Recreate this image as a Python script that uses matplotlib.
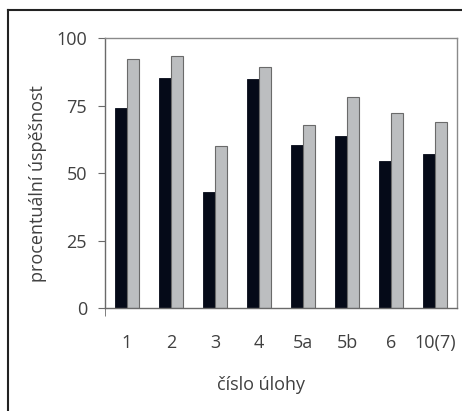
import numpy as np
import matplotlib.pyplot as plt
from matplotlib.lines import Line2D

# data
categories = ['1', '2', '3', '4', '5a', '5b', '6', '10(7)']
dark_values = [74.1, 85.1, 43.0, 84.7, 60.5, 63.7, 54.4, 56.9]
gray_values = [92.1, 93.5, 60.0, 89.1, 67.9, 78.3, 72.1, 68.9]
y_ticks = [0, 25, 50, 75, 100]

plt.rcParams['font.family'] = ['Open Sans', 'DejaVu Sans']

fig = plt.figure(figsize=(4.62, 4.11), dpi=100)
ax = fig.add_axes([105 / 462, 1 - 308 / 411, (457 - 105) / 462, (308 - 38) / 411])

x = np.arange(len(categories))
w = 0.28
ax.bar(x - w / 2, dark_values, width=w, color='#050a18', edgecolor='#050a18', linewidth=0.6)
ax.bar(x + w / 2, gray_values, width=w, color='#bcbec0', edgecolor='#6a6a6a', linewidth=0.8)

ax.set_xlim(-0.5, len(categories) - 0.5)
ax.set_ylim(0, 100)
ax.set_yticks(y_ticks)
ax.set_xticks(x)
ax.set_xticklabels(categories)
ax.set_xticks([-0.5], minor=True)

for s in ax.spines.values():
    s.set_color('#8a8a8a')
    s.set_linewidth(1.0)
ax.spines['left'].set_color('#6a6a6a')
ax.spines['bottom'].set_color('#6a6a6a')

fs = 13
ax.tick_params(axis='y', length=5, direction='out', color='#6a6a6a', pad=8,
               labelsize=fs, labelcolor='#404040')
ax.tick_params(axis='x', which='major', length=0, pad=19,
               labelsize=fs, labelcolor='#404040')
ax.tick_params(axis='x', which='minor', length=6, direction='out', color='#6a6a6a')

ax.set_ylabel('procentuální úspěšnost', fontsize=fs, color='#404040', va='center')
ax.set_xlabel('číslo úlohy', fontsize=fs, color='#404040', va='center')
ax.yaxis.set_label_coords(-0.19, 0.46)
ax.xaxis.set_label_coords(0.443, -0.285)

# outer frame (top and left edges)
fig.add_artist(Line2D([8 / 462, 1], [1 - 10 / 411, 1 - 10 / 411], color='#222222', linewidth=1.5,
                      transform=fig.transFigure))
fig.add_artist(Line2D([8 / 462, 8 / 462], [0, 1 - 10 / 411], color='#222222', linewidth=1.5,
                      transform=fig.transFigure))

fig.savefig('out.png', dpi=100)
